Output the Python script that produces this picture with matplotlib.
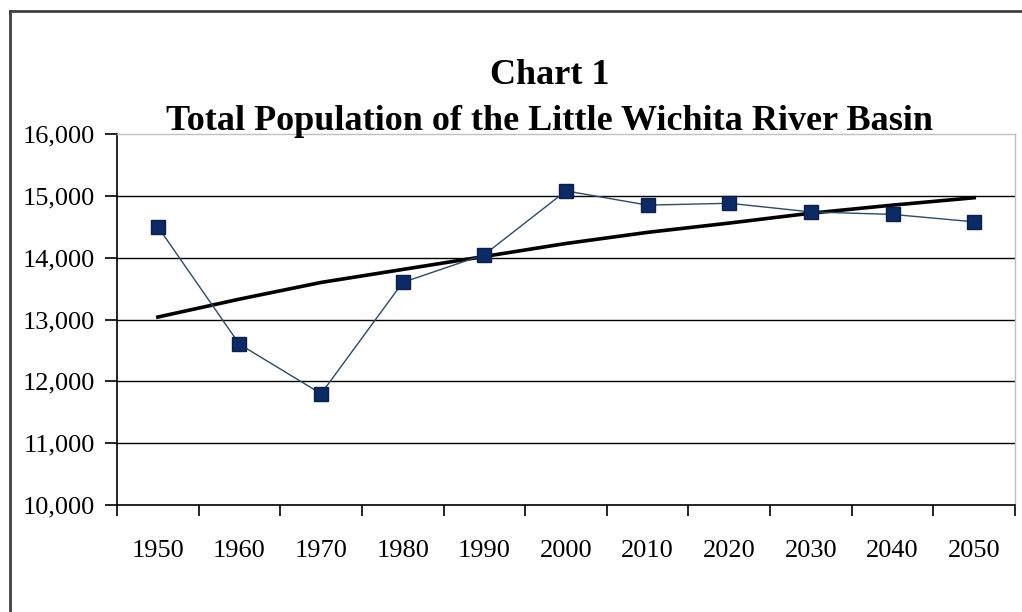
import numpy as np
import matplotlib.pyplot as plt
from matplotlib.lines import Line2D

years = ["1950", "1960", "1970", "1980", "1990", "2000",
         "2010", "2020", "2030", "2040", "2050"]
population = [14500, 12600, 11800, 13600, 14050, 15080,
              14850, 14880, 14740, 14700, 14580]
trend = [13040, 13330, 13600, 13810, 14020, 14230,
         14410, 14560, 14720, 14850, 14970]
y_ticks = [10000, 11000, 12000, 13000, 14000, 15000, 16000]

fig = plt.figure(figsize=(10.22, 6.12), dpi=100)
ax = fig.add_axes([0.1145, 0.1748, 0.8787, 0.6062])

x = np.arange(len(years))
ax.plot(x, population, color="#2a4a6a", lw=1, marker="s", ms=10,
        mfc="#0b2a66", mec="#0a1f4a", zorder=3)
ax.plot(x, trend, color="black", lw=2.6, zorder=2)

ax.set_xlim(-0.5, len(years) - 0.5)
ax.set_ylim(y_ticks[0], y_ticks[-1])
ax.set_yticks(y_ticks)
ax.set_yticklabels([f"{v:,}" for v in y_ticks])
ax.set_xticks(x)
ax.set_xticklabels(years)
ax.set_xticks(np.arange(-0.5, len(years)), minor=True)

for v in y_ticks[1:-1]:
    ax.axhline(v, color="black", lw=1, zorder=1)

ax.tick_params(axis="x", which="major", length=0, pad=25)
ax.tick_params(axis="x", which="minor", length=8, width=1.2, direction="out")
ax.tick_params(axis="y", length=9, width=1.2, direction="out", pad=7)
for lab in ax.get_xticklabels() + ax.get_yticklabels():
    lab.set_fontfamily("Liberation Serif")
    lab.set_fontsize(19)

for s in ["left", "bottom"]:
    ax.spines[s].set_color("black")
    ax.spines[s].set_linewidth(1.2)
for s in ["top", "right"]:
    ax.spines[s].set_color("#c0c0c0")
    ax.spines[s].set_linewidth(1)

fig.text(0.538, 0.877, "Chart 1", ha="center", va="center",
         family="Liberation Serif", weight="bold", fontsize=26)
fig.text(0.538, 0.801, "Total Population of the Little Wichita River Basin",
         ha="center", va="center", family="Liberation Serif",
         weight="bold", fontsize=26)

# outer chart frame (only top and left edges are in view)
fig.add_artist(Line2D([0.0098, 0.0098], [0, 0.982], color="#404040", lw=2,
                      transform=fig.transFigure))
fig.add_artist(Line2D([0.0098, 1], [0.982, 0.982], color="#404040", lw=2,
                      transform=fig.transFigure))

fig.savefig("out.png", dpi=100)
